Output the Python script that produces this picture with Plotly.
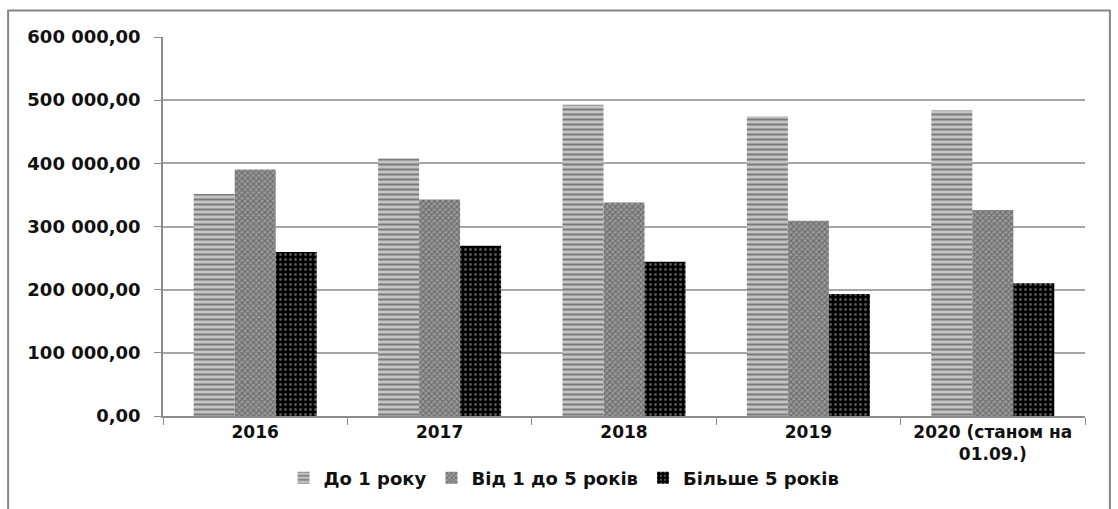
import plotly.graph_objects as go

# Categories and series values
categories = ["2016", "2017", "2018", "2019", "2020 (станом на<br>01.09.)"]
up_to_1_year = [351300, 407700, 492600, 474700, 484200]
from_1_to_5_years = [390300, 342900, 338100, 309000, 326000]
over_5_years = [259500, 269500, 244200, 193000, 210000]
series_names = ["До 1 року", "Від 1 до 5 років", "Більше 5 років"]
y_ticks = [0, 100000, 200000, 300000, 400000, 500000, 600000]

FONT = "DejaVu Sans"
TEXT = "#111111"

fig = go.Figure()

fig.add_trace(go.Bar(
    name=series_names[0], x=categories, y=up_to_1_year,
    marker=dict(color="#c4c4c4", line=dict(width=0),
                pattern=dict(shape="-", fgcolor="#2e2e2e", bgcolor="#c4c4c4",
                             size=5, solidity=0.4)),
))
fig.add_trace(go.Bar(
    name=series_names[1], x=categories, y=from_1_to_5_years,
    marker=dict(color="#8c8c8c", line=dict(width=0),
                pattern=dict(shape="x", fgcolor="#333333", bgcolor="#9a9a9a",
                             size=4, solidity=0.45)),
))
fig.add_trace(go.Bar(
    name=series_names[2], x=categories, y=over_5_years,
    marker=dict(color="#000000", line=dict(width=0),
                pattern=dict(shape=".", fgcolor="#b0b0b0", bgcolor="#000000",
                             size=5, solidity=0.25)),
))

# Outer chart frame
fig.add_shape(type="rect", xref="paper", yref="paper",
              x0=-0.168, x1=1.027, y0=-0.27, y1=1.07,
              line=dict(color="#858585", width=2), fillcolor="rgba(0,0,0,0)",
              layer="below")

fig.update_layout(
    width=1118, height=509,
    margin=dict(l=163, r=33, t=37, b=93),
    paper_bgcolor="white", plot_bgcolor="white",
    barmode="group", bargap=0.333, bargroupgap=0,
    separators=", ",
    font=dict(family=FONT, size=16, color=TEXT),
    showlegend=True,
    legend=dict(orientation="h", x=0.435, xanchor="center", y=-0.115, yanchor="top",
                font=dict(family=FONT, size=18, color=TEXT, weight="bold"),
                itemwidth=30, tracegroupgap=0, bgcolor="rgba(0,0,0,0)"),
    xaxis=dict(
        showline=True, linecolor="#8c8c8c", linewidth=1.5,
        ticks="outside", tickson="boundaries", ticklen=7, tickcolor="#8c8c8c",
        tickfont=dict(family=FONT, size=17, color=TEXT, weight="bold"),
        showgrid=False,
    ),
    yaxis=dict(
        range=[0, 600000], tickvals=y_ticks, tickformat=",.2f",
        showline=True, linecolor="#8c8c8c", linewidth=1.5,
        ticks="outside", ticklen=7, tickcolor="#8c8c8c",
        ticklabelstandoff=10,
        showgrid=True, gridcolor="#a6a6a6", gridwidth=1.5,
        tickfont=dict(family=FONT, size=18, color=TEXT, weight="bold"),
        zeroline=False,
    ),
)

fig.write_html("out.html")
